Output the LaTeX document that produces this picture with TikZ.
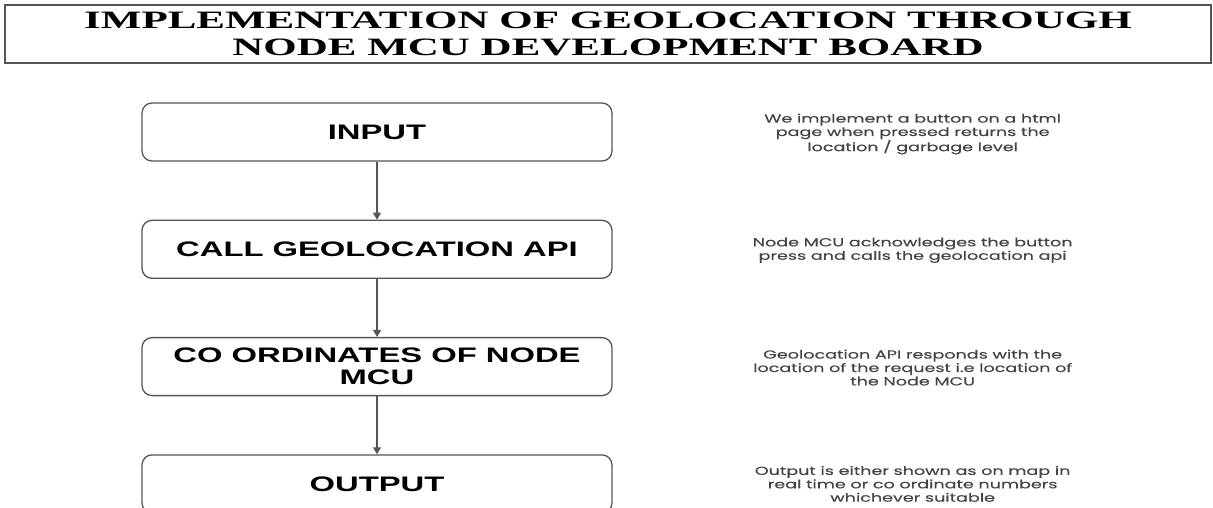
\documentclass[tikz,border=0pt]{standalone}
\usepackage{fontspec}
\newfontfamily\titlefont[FakeStretch=1.72]{Liberation Serif}
\newfontfamily\boxfont[FakeStretch=1.56]{Liberation Sans}
\newfontfamily\notefont[FakeStretch=1.5,FakeBold=0.4]{Poppins}
\usepackage{tikz}
\usetikzlibrary{positioning,arrows.meta}
\definecolor{edgegray}{HTML}{555555}
\definecolor{notegray}{HTML}{444444}
\tikzset{
titlebox/.style={
  draw=edgegray, line width=1.2pt,
  minimum width=1206pt, minimum height=58pt,
  align=center, inner sep=0pt,
  font=\titlefont\bfseries\fontsize{25}{27.5}\selectfont
  },
stepbox/.style={
  draw=edgegray, line width=1.3pt, rounded corners=10pt,
  minimum width=470pt, minimum height=58pt,
  align=center, inner sep=0pt,
  font=\boxfont\bfseries\fontsize{21}{22}\selectfont
  },
note/.style={
  align=center, text=notegray, inner sep=0pt,
  font=\notefont\fontsize{11.7}{13.4}\selectfont
  },
flow/.style={
  ->, draw=edgegray, line width=1.3pt
  }
}

\begin{document}
\begin{tikzpicture}[x=1pt,y=-1pt,>={Triangle[width=8pt,length=7pt]}]
\useasboundingbox (0,0) rectangle (1213,508);

% heading

\node[titlebox] (title) at (608,34)
{IMPLEMENTATION OF GEOLOCATION THROUGH\\
 NODE MCU DEVELOPMENT BOARD};

% steps

\node[stepbox] (in1) at (377,132) {INPUT};
\node[stepbox, below=58pt of in1] (api2) {CALL GEOLOCATION API};
\node[stepbox, below=58pt of api2] (coord3) {CO ORDINATES OF NODE\\ MCU};
\node[stepbox, below=58pt of coord3] (out4) {OUTPUT};

\begin{scope}
\draw[flow] (in1) -- (api2);
\draw[flow] (api2) -- (coord3);
\draw[flow] (coord3) -- (out4);
\end{scope}

% notes each step

\node[note] (note1) at ([xshift=300pt,yshift=-2pt]in1.east)
{We implement a button on a html\\
 page when pressed returns the\\
 location / garbage level};

\node[note] (note2) at ([xshift=300pt,yshift=-1pt]api2.east)
{Node MCU acknowledges the button\\
 press and calls the geolocation api};

\node[note] (note3) at ([xshift=300pt,yshift=-1pt]coord3.east)
{Geolocation API responds with the\\
 location of the request i.e location of\\
 the Node MCU};

\node[note] (note4) at ([xshift=300pt]out4.east)
{Output is either shown as on map in\\
 real time or co ordinate numbers\\
 whichever suitable};

\end{tikzpicture}
\end{document}
